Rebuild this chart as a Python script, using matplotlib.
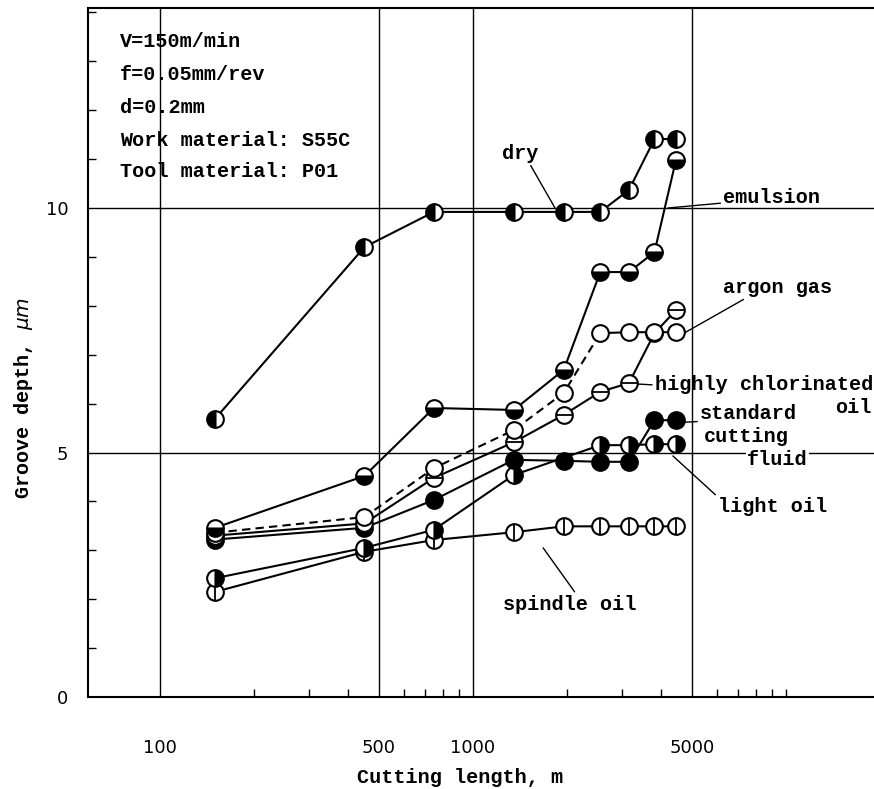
import numpy as np
import matplotlib
matplotlib.use("Agg")
import matplotlib.pyplot as plt
from matplotlib.ticker import FixedLocator, NullFormatter

# cutting length, m (shared by most series)
L = [150, 450, 750, 1350, 1950, 2550, 3150, 3800, 4450]
L_light = [150, 450, 750, 1350, 2550, 3150, 3800, 4450]

# groove depth, um
dry = [5.69, 9.20, 9.92, 9.92, 9.92, 9.92, 10.37, 11.41, 11.41]
emulsion = [3.46, 4.52, 5.91, 5.87, 6.69, 8.69, 8.69, 9.10, 10.98]
argon = [3.36, 3.68, 4.68, 5.46, 6.22, 7.44, 7.46, 7.46, 7.46]
chlorinated = [3.30, 3.55, 4.48, 5.21, 5.77, 6.24, 6.42, 7.44, 7.91]
standard = [3.22, 3.46, 4.03, 4.85, 4.83, 4.81, 4.81, 5.66, 5.66]
light = [2.43, 3.05, 3.42, 4.54, 5.15, 5.15, 5.17, 5.17]
spindle = [2.15, 2.97, 3.21, 3.37, 3.49, 3.49, 3.49, 3.49, 3.49]

conditions = ["V=150m/min", "f=0.05mm/rev", "d=0.2mm",
              "Work material: S55C", "Tool material: P01"]

MONO = dict(family="Liberation Mono", weight="bold", fontsize=14.5)
MS, MEW, LW = 12, 1.5, 1.5

fig = plt.figure(figsize=(8.74, 7.89), dpi=100)
ax = fig.add_axes([88/874, 92/789, 786/874, 689/789])
ax.set_xscale("log")
ax.set_xlim(58.9, 19100)
ax.set_ylim(0, 14.09)

ax.xaxis.set_major_locator(FixedLocator([100, 500, 1000, 5000]))
ax.xaxis.set_minor_locator(FixedLocator([200, 300, 400, 600, 700, 800, 900,
                                         2000, 3000, 4000, 6000, 7000, 8000, 9000, 10000]))
ax.xaxis.set_minor_formatter(NullFormatter())
ax.set_xticklabels(["100", "500", "1000", "5000"])
ax.yaxis.set_major_locator(FixedLocator([0, 5, 10]))
ax.yaxis.set_minor_locator(FixedLocator([i for i in range(1, 15) if i not in (5, 10)]))
ax.set_yticklabels(["0", "5", "10"])
ax.tick_params(which="major", length=0, labelsize=13, pad=14)
ax.tick_params(axis="x", which="major", pad=30)
ax.tick_params(which="minor", direction="in", length=6, width=1, color="k")
ax.grid(True, which="major", color="k", lw=1)
for s in ["left", "bottom", "top"]:
    ax.spines[s].set_linewidth(1.5)
ax.spines["right"].set_visible(False)

def series(x, y, fill, ls="-", overlay=None, z=3):
    kw = dict(marker="o", ms=MS, mew=MEW, mec="k", color="k", lw=LW, zorder=z)
    if fill == "full":
        ax.plot(x, y, ls=ls, mfc="k", **kw)
    elif fill == "none":
        ax.plot(x, y, ls=ls, mfc="white", **kw)
    else:
        ax.plot(x, y, ls=ls, mfc="k", mfcalt="white", fillstyle=fill, **kw)
    if overlay:
        ax.plot(x, y, ls="none", marker=overlay, ms=MS - 1, mew=1.3, color="k", zorder=z + 0.1)

series(L, spindle, "none", overlay="|", z=3)
series(L_light, light, "right", z=3.2)
series(L, standard, "full", z=3.4)
series(L, chlorinated, "none", overlay="_", z=3.6)
# argon gas: dashed up to 2550 m, solid after
ax.plot(L[:6], argon[:6], ls=(0, (4, 2.5)), color="k", lw=LW, zorder=3.8)
ax.plot(L[5:], argon[5:], ls="-", color="k", lw=LW, zorder=3.8)
ax.plot(L, argon, ls="none", marker="o", ms=MS, mew=MEW, mec="k", mfc="white", zorder=3.85)
series(L, emulsion, "bottom", z=4)
series(L, dry, "left", z=4.2)

for i, t in enumerate(conditions):
    ax.text(0.0407, [0.9507, 0.9028, 0.8563, 0.8084, 0.762][i], t,
            transform=ax.transAxes, va="center", ha="left", **MONO)

arrow = dict(arrowstyle="-", color="k", lw=1, shrinkA=0, shrinkB=0)
ax.annotate("dry", xy=(1828, 10.0), xytext=(1413, 11.12), ha="center", va="center",
            arrowprops=dict(arrow, relpos=(0.75, 0)), **MONO)
ax.annotate("emulsion", xy=(4198, 10.0), xytext=(6300, 10.22), ha="left", va="center",
            arrowprops=dict(arrow, relpos=(0, 0.2)), **MONO)
ax.annotate("argon gas", xy=(4720, 7.44), xytext=(6300, 8.38), ha="left", va="center",
            arrowprops=dict(arrow, relpos=(0.23, 0)), **MONO)
ax.annotate("highly chlorinated", xy=(3366, 6.40), xytext=(3810, 6.40), ha="left", va="center",
            arrowprops=dict(arrow, relpos=(0, 0.45)), **MONO)
ax.text(14350, 5.93, "oil", ha="left", va="center", **MONO)
ax.annotate("standard", xy=(4750, 5.62), xytext=(5310, 5.79), ha="left", va="center",
            arrowprops=dict(arrow, relpos=(0, 0.1)), **MONO)
ax.text(5470, 5.32, "cutting", ha="left", va="center", **MONO)
ax.text(7500, 4.85, "fluid", ha="left", va="center", zorder=5,
        bbox=dict(fc="white", ec="none", pad=1), **MONO)
ax.annotate("light oil", xy=(4350, 4.93), xytext=(6070, 3.89), ha="left", va="center",
            arrowprops=dict(arrow, relpos=(0, 1)), **MONO)
ax.annotate("spindle oil", xy=(1675, 3.05), xytext=(2040, 1.90), ha="center", va="center",
            arrowprops=dict(arrow, relpos=(0.55, 1)), **MONO)

ax.set_xlabel("Cutting length, m", **MONO)
ax.xaxis.set_label_coords(0.473, -0.103)
ax.set_ylabel(r"Groove depth, $\mathit{\mu m}$", **MONO)
ax.yaxis.set_label_coords(-0.0674, 0.434)

fig.savefig("out.png", dpi=100)
